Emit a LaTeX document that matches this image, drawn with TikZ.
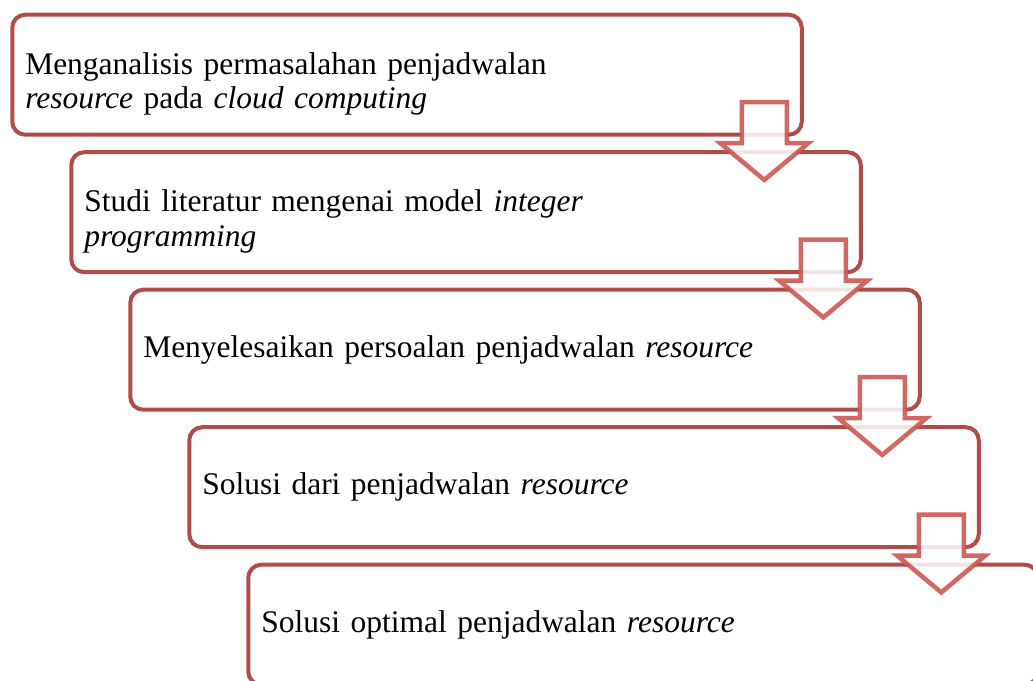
\documentclass[tikz,border=0pt]{standalone}
\usepackage{fontspec}
\setmainfont{Liberation Serif}
\usepackage{tikz}
\usetikzlibrary{calc}
\usepackage{xcolor}

\definecolor{boxred}{RGB}{176,76,73}
\definecolor{arrowred}{RGB}{204,88,84}

\begin{document}
\begin{tikzpicture}[
    x=1pt, y=-1pt,
    box/.style={draw=boxred, line width=4pt, rounded corners=13pt, outer sep=0pt, fill=white,
        minimum width=789.5pt, minimum height=120pt, text width=763.5pt,
        inner xsep=13pt, inner ysep=0pt, align=left, font=\fontsize{31.5}{34.5}\selectfont},
    blockarrow/.style={draw=arrowred, draw opacity=0.9, line width=4.5pt, fill=white, fill opacity=0.85},
    downarrow/.pic={
        \path[blockarrow] (-22.5,0) -- (22.5,0) -- (22.5,41) -- (44,41) -- (0,77.7)
            -- (-44,41) -- (-22.5,41) -- cycle;
    }
]

\useasboundingbox (0,0) rectangle (1033,680);

% Step 1
\node[box, text depth=23pt] (S1) at (407,74.7) {Menganalisis permasalahan penjadwalan\\ \textit{resource} pada \textit{cloud computing}};

% Step 2
\node[box, text depth=23pt] (S2) at (466,212.2) {Studi literatur mengenai model \textit{integer}\\ \textit{programming}};

% Step 3
\node[box] (S3) at (525,349.7) {Menyelesaikan persoalan penjadwalan \textit{resource}};

% Step 4
\node[box] (S4) at (584,487.2) {Solusi dari penjadwalan \textit{resource}};

% Step 5
\node[box] (S5) at (643,624.7) {Solusi optimal penjadwalan \textit{resource}};

% Arrows
\pic at ($(S1.south east)+(-37.5,-32.5)$) {downarrow};
\pic at ($(S2.south east)+(-37.5,-32.5)$) {downarrow};
\pic at ($(S3.south east)+(-37.5,-32.5)$) {downarrow};
\pic at ($(S4.south east)+(-37.5,-32.5)$) {downarrow};

\end{tikzpicture}
\end{document}
